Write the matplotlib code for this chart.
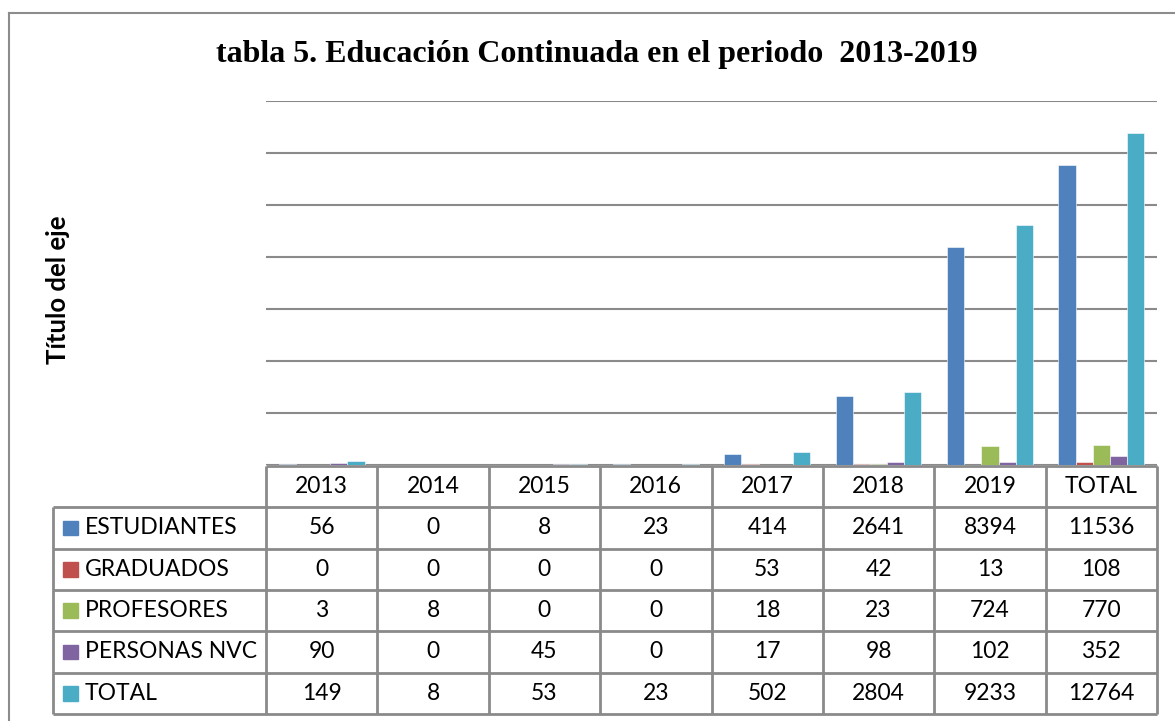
import matplotlib
matplotlib.use("Agg")
import matplotlib.pyplot as plt
from matplotlib.lines import Line2D
from matplotlib.patches import Rectangle

title = "tabla 5. Educación Continuada en el periodo  2013-2019"
ylabel = "Título del eje"
categories = ["2013", "2014", "2015", "2016", "2017", "2018", "2019", "TOTAL"]
series_names = ["ESTUDIANTES", "GRADUADOS", "PROFESORES", "PERSONAS NVC", "TOTAL"]
estudiantes = [56, 0, 8, 23, 414, 2641, 8394, 11536]
graduados = [0, 0, 0, 0, 53, 42, 13, 108]
profesores = [3, 8, 0, 0, 18, 23, 724, 770]
personas_nvc = [90, 0, 45, 0, 17, 98, 102, 352]
total = [149, 8, 53, 23, 502, 2804, 9233, 12764]
series_values = [estudiantes, graduados, profesores, personas_nvc, total]
colors = ["#4F81BD", "#C0504D", "#9BBB59", "#8064A2", "#4BACC6"]

W, H = 1175, 721
fig = plt.figure(figsize=(W / 100, H / 100), dpi=100)
fig.patch.set_facecolor("white")

# outer chart border
border_c = "#8c8c8c"
fig.add_artist(Line2D([8.5 / W, 8.5 / W], [0, 1 - 12.5 / H], color=border_c, lw=1.5, transform=fig.transFigure))
fig.add_artist(Line2D([8.5 / W, 1], [1 - 12.5 / H, 1 - 12.5 / H], color=border_c, lw=1.5, transform=fig.transFigure))

# plot area
px_l, px_r, px_t, px_b = 266, 1157, 101, 465
ax = fig.add_axes([px_l / W, 1 - px_b / H, (px_r - px_l) / W, (px_b - px_t) / H])
n = len(categories)
ax.set_xlim(-0.5, n - 0.5)
ax.set_ylim(0, 14000)
ax.set_yticks(range(0, 14001, 2000))
ax.yaxis.grid(True, color="#8a8a8a", lw=1.5)
ax.set_axisbelow(True)
ax.tick_params(left=False, bottom=False, labelleft=False, labelbottom=False)
for s in ax.spines.values():
    s.set_visible(False)

nser = len(series_values)
bw = 1 / (nser + 1.5)
for i, (vals, c) in enumerate(zip(series_values, colors)):
    xs = [k + (i - (nser - 1) / 2) * bw for k in range(n)]
    ax.bar(xs, vals, width=bw, color=c, edgecolor="white", linewidth=0.4, zorder=3)

# data table
tb_l, tb_t, tb_b = 53, 466, 714
cat_px = (px_r - px_l) / n
left_units = (px_l - tb_l) / cat_px
tax = fig.add_axes([tb_l / W, 1 - tb_b / H, (px_r - tb_l) / W, (tb_b - tb_t) / H])
tax.set_xlim(-0.5 - left_units, n - 0.5)
nrows = nser + 1
tax.set_ylim(nrows, 0)
tax.axis("off")
lc = "#8a8a8a"
lw = 2
tax.plot([-0.5, n - 0.5], [0, 0], color=lc, lw=lw, clip_on=False, solid_capstyle="butt")
for r in range(1, nrows + 1):
    tax.plot([-0.5 - left_units, n - 0.5], [r, r], color=lc, lw=lw, clip_on=False, solid_capstyle="butt")
tax.plot([-0.5 - left_units] * 2, [1, nrows], color=lc, lw=lw, clip_on=False, solid_capstyle="butt")
for k in range(n + 1):
    tax.plot([k - 0.5] * 2, [0, nrows], color=lc, lw=lw, clip_on=False, solid_capstyle="butt")

fam = ["Lato", "DejaVu Sans"]
fs = 16.5
for k, cat in enumerate(categories):
    tax.text(k, 0.5, cat, ha="center", va="center", fontsize=fs, family=fam, color="black")
sq = 15 / cat_px
for r, (name, vals, c) in enumerate(zip(series_names, series_values, colors), start=1):
    x0 = -0.5 - left_units + 10 / cat_px
    tax.add_patch(Rectangle((x0, r + 0.5 - 0.18), sq, 0.36, color=c, clip_on=False))
    tax.text(x0 + sq + 7 / cat_px, r + 0.5, name, ha="left", va="center", fontsize=fs, family=fam, color="black")
    for k, v in enumerate(vals):
        tax.text(k, r + 0.5, str(v), ha="center", va="center", fontsize=fs, family=fam, color="black")

fig.text(597 / W, 1 - 62 / H, title, ha="center", va="baseline", fontsize=23,
         family=["Liberation Serif", "DejaVu Serif"], weight="bold")
fig.text(58 / W, 1 - 290 / H, ylabel, ha="center", va="center", rotation=90, fontsize=18.5,
         family=fam, weight="bold")

fig.savefig("out.png", dpi=100)
